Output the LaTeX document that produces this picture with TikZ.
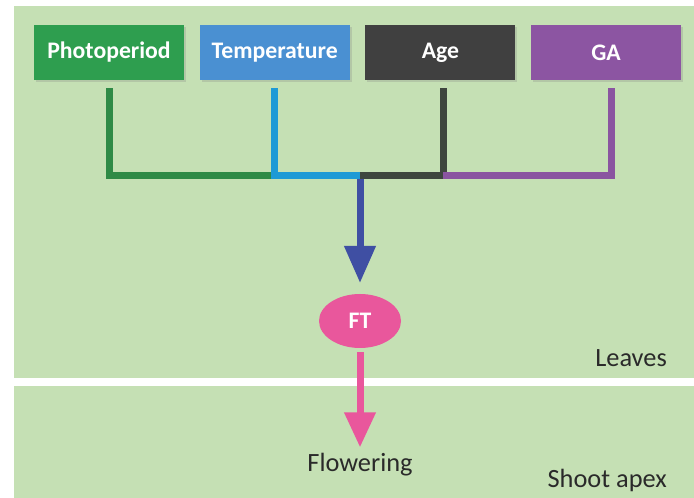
\documentclass[tikz,border=0pt]{standalone}
\usepackage{fontspec}
\setmainfont{Carlito}
\usetikzlibrary{positioning,shapes.geometric,arrows.meta,shadows}
\definecolor{panel}{HTML}{C5E0B4}
\definecolor{photobox}{HTML}{2E9E4F}
\definecolor{photoline}{HTML}{2F8A46}
\definecolor{tempbox}{HTML}{4A90D2}
\definecolor{templine}{HTML}{1D9AD6}
\definecolor{agebox}{HTML}{404040}
\definecolor{ageline}{HTML}{3E463E}
\definecolor{gabox}{HTML}{8C55A2}
\definecolor{galine}{HTML}{8A55A0}
\definecolor{ftarrow}{HTML}{3F4FA3}
\definecolor{ftpink}{HTML}{E9579C}
\definecolor{txtdark}{HTML}{2A2A2A}

\begin{document}
\begin{tikzpicture}[
    factor/.style={minimum width=3cm,minimum height=1.1cm,inner sep=0pt,text=white,
      font=\fontsize{13.5}{15}\selectfont\bfseries,
      drop shadow={opacity=0.25,shadow xshift=0.04cm,shadow yshift=-0.04cm}},
    bar/.style={line width=0.14cm,line join=miter}
  ]
        \useasboundingbox (0,0) rectangle (13.88,9.96);
        \fill[white] (0,0) rectangle (13.88,9.96);
        \fill[panel] (0.28,2.4) rectangle (13.88,9.84);
        \fill[panel] (0.28,0) rectangle (13.88,2.24);

        \node[factor,fill=photobox] (pp) at (2.18,8.91) {Photoperiod};
        \node[factor,fill=tempbox,right=0.3cm of pp] (tp) {Temperature};
        \node[factor,fill=agebox,right=0.3cm of tp] (age) {Age};
        \node[factor,fill=gabox,right=0.3cm of age] (ga) {GA};

        \coordinate (hub) at (7.2,6.44);
        \node[ellipse,fill=ftpink,text=white,minimum width=1.64cm,minimum height=1.08cm,
          font=\fontsize{13.5}{15}\selectfont\bfseries] (ft) at (7.2,3.54) {FT};

        \draw[bar,draw=ftarrow,-{Triangle[length=0.74cm,width=0.6cm]}] (hub) -- (7.2,4.3) coordinate (ftin);
        \draw[bar,draw=photoline] ([yshift=-0.16cm]pp.south) |- (tp.south |- hub);
        \draw[bar,draw=templine] ([yshift=-0.16cm]tp.south) |- (hub);
        \draw[bar,draw=ageline] ([xshift=0.06cm,yshift=-0.16cm]age.south) |- (hub);
        \draw[bar,draw=galine] ([xshift=0.1cm,yshift=-0.16cm]ga.south) |- ([xshift=0.06cm]age.south |- hub);

        \node[font=\fontsize{15}{18}\selectfont,text=txtdark] (flower) at (7.2,0.66) {Flowering};
        \draw[bar,draw=ftpink,-{Triangle[length=0.7cm,width=0.6cm]}] ([yshift=-0.08cm]ft.south) -- (flower.north);

        \node[font=\fontsize{15}{18}\selectfont,text=txtdark,anchor=east] (leaves) at (13.46,2.8) {Leaves};
        \node[font=\fontsize{15}{18}\selectfont,text=txtdark,anchor=east] (apex) at (13.46,0.36) {Shoot apex};
      \end{tikzpicture}
\end{document}
